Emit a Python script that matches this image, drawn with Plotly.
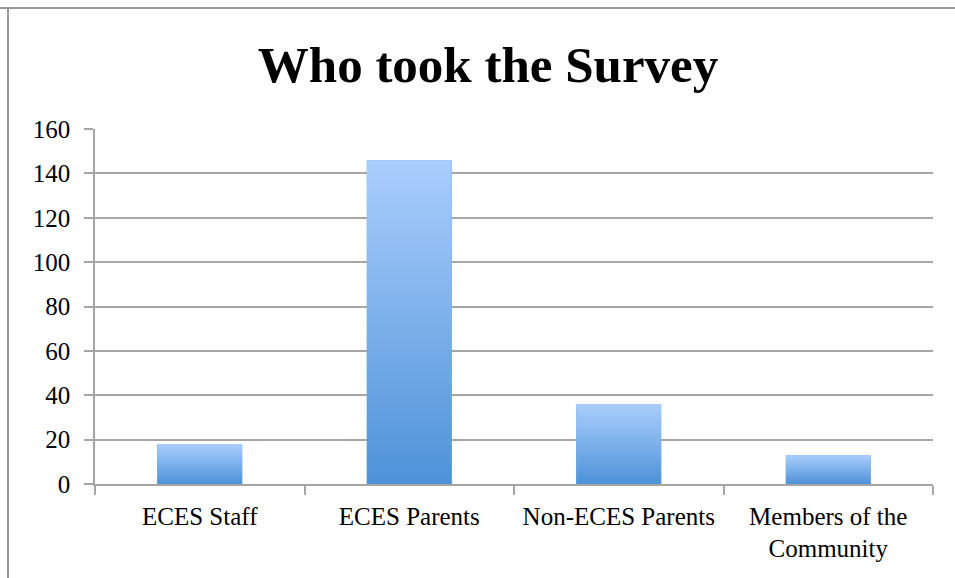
import base64
import struct
import zlib

import plotly.graph_objects as go

# Survey respondents by group
categories = ["ECES Staff", "ECES Parents", "Non-ECES Parents", "Members of the<br>Community"]
counts = [18, 146, 36, 13]
y_ticks = [0, 20, 40, 60, 80, 100, 120, 140, 160]

BAR_WIDTH = 0.405
TOP_COLOR = (170, 206, 253)
BOTTOM_COLOR = (78, 146, 216)
GRID = "#a6a6a6"
FONT = "Liberation Serif"


def gradient_png(top, bottom, height=256):
    """Build a 1-pixel-wide vertical gradient PNG and return it as a data URI."""
    raw = bytearray()
    for r in range(height):
        t = r / (height - 1)
        px = [round(a + (b - a) * t) for a, b in zip(top, bottom)]
        raw += b"\x00" + bytes(px)

    def chunk(tag, data):
        body = tag + data
        return struct.pack(">I", len(data)) + body + struct.pack(">I", zlib.crc32(body) & 0xFFFFFFFF)

    png = b"\x89PNG\r\n\x1a\n"
    png += chunk(b"IHDR", struct.pack(">IIBBBBB", 1, height, 8, 2, 0, 0, 0))
    png += chunk(b"IDAT", zlib.compress(bytes(raw), 9))
    png += chunk(b"IEND", b"")
    return "data:image/png;base64," + base64.b64encode(png).decode()


grad = gradient_png(TOP_COLOR, BOTTOM_COLOR)

fig = go.Figure(
    go.Bar(
        x=categories,
        y=counts,
        width=BAR_WIDTH,
        marker=dict(color="rgb(%d,%d,%d)" % BOTTOM_COLOR, line=dict(width=0)),
        hovertemplate="%{x}: %{y}<extra></extra>",
    )
)

# Gradient fill laid over each bar, sized from the bar's own value
images = []
for i, v in enumerate(counts):
    images.append(dict(
        source=grad, xref="x", yref="y",
        x=i - BAR_WIDTH / 2, y=v, sizex=BAR_WIDTH, sizey=v,
        xanchor="left", yanchor="top", sizing="stretch", layer="above",
    ))

fig.update_layout(
    width=955, height=578,
    margin=dict(l=95, r=22, t=129, b=94),
    paper_bgcolor="white", plot_bgcolor="white",
    font=dict(family=FONT, size=25, color="black"),
    title=dict(
        text="<b>Who took the Survey</b>",
        font=dict(family=FONT, size=51, color="black"),
        x=0.511, xanchor="center", y=0.889, yanchor="middle",
    ),
    showlegend=False,
    bargap=0.6,
    images=images,
    shapes=[
        # chart frame along the top and left edges
        dict(type="line", xref="paper", yref="paper", x0=-95 / 838, x1=1.1, y0=1 + 121 / 355, y1=1 + 121 / 355,
             line=dict(color="#9a9a9a", width=2)),
        dict(type="line", xref="paper", yref="paper", x0=-87 / 838, x1=-87 / 838, y0=1 + 121 / 355, y1=-0.3,
             line=dict(color="#9a9a9a", width=2)),
    ],
)

fig.update_xaxes(
    type="category",
    showline=True, linecolor=GRID, linewidth=1.5,
    ticks="outside", tickson="boundaries", ticklen=9, tickcolor=GRID, tickwidth=1.5,
    showgrid=False,
    ticklabelstandoff=9,
    tickfont=dict(family=FONT, size=25),
)
fig.update_yaxes(
    range=[0, 160], tickvals=y_ticks,
    showline=True, linecolor=GRID, linewidth=1.5,
    ticks="outside", ticklen=9, tickcolor=GRID, tickwidth=1.5,
    showgrid=True, gridcolor=GRID, gridwidth=1.5,
    zeroline=False,
    ticklabelstandoff=9,
    tickfont=dict(family=FONT, size=25),
)

fig.write_html("out.html")
